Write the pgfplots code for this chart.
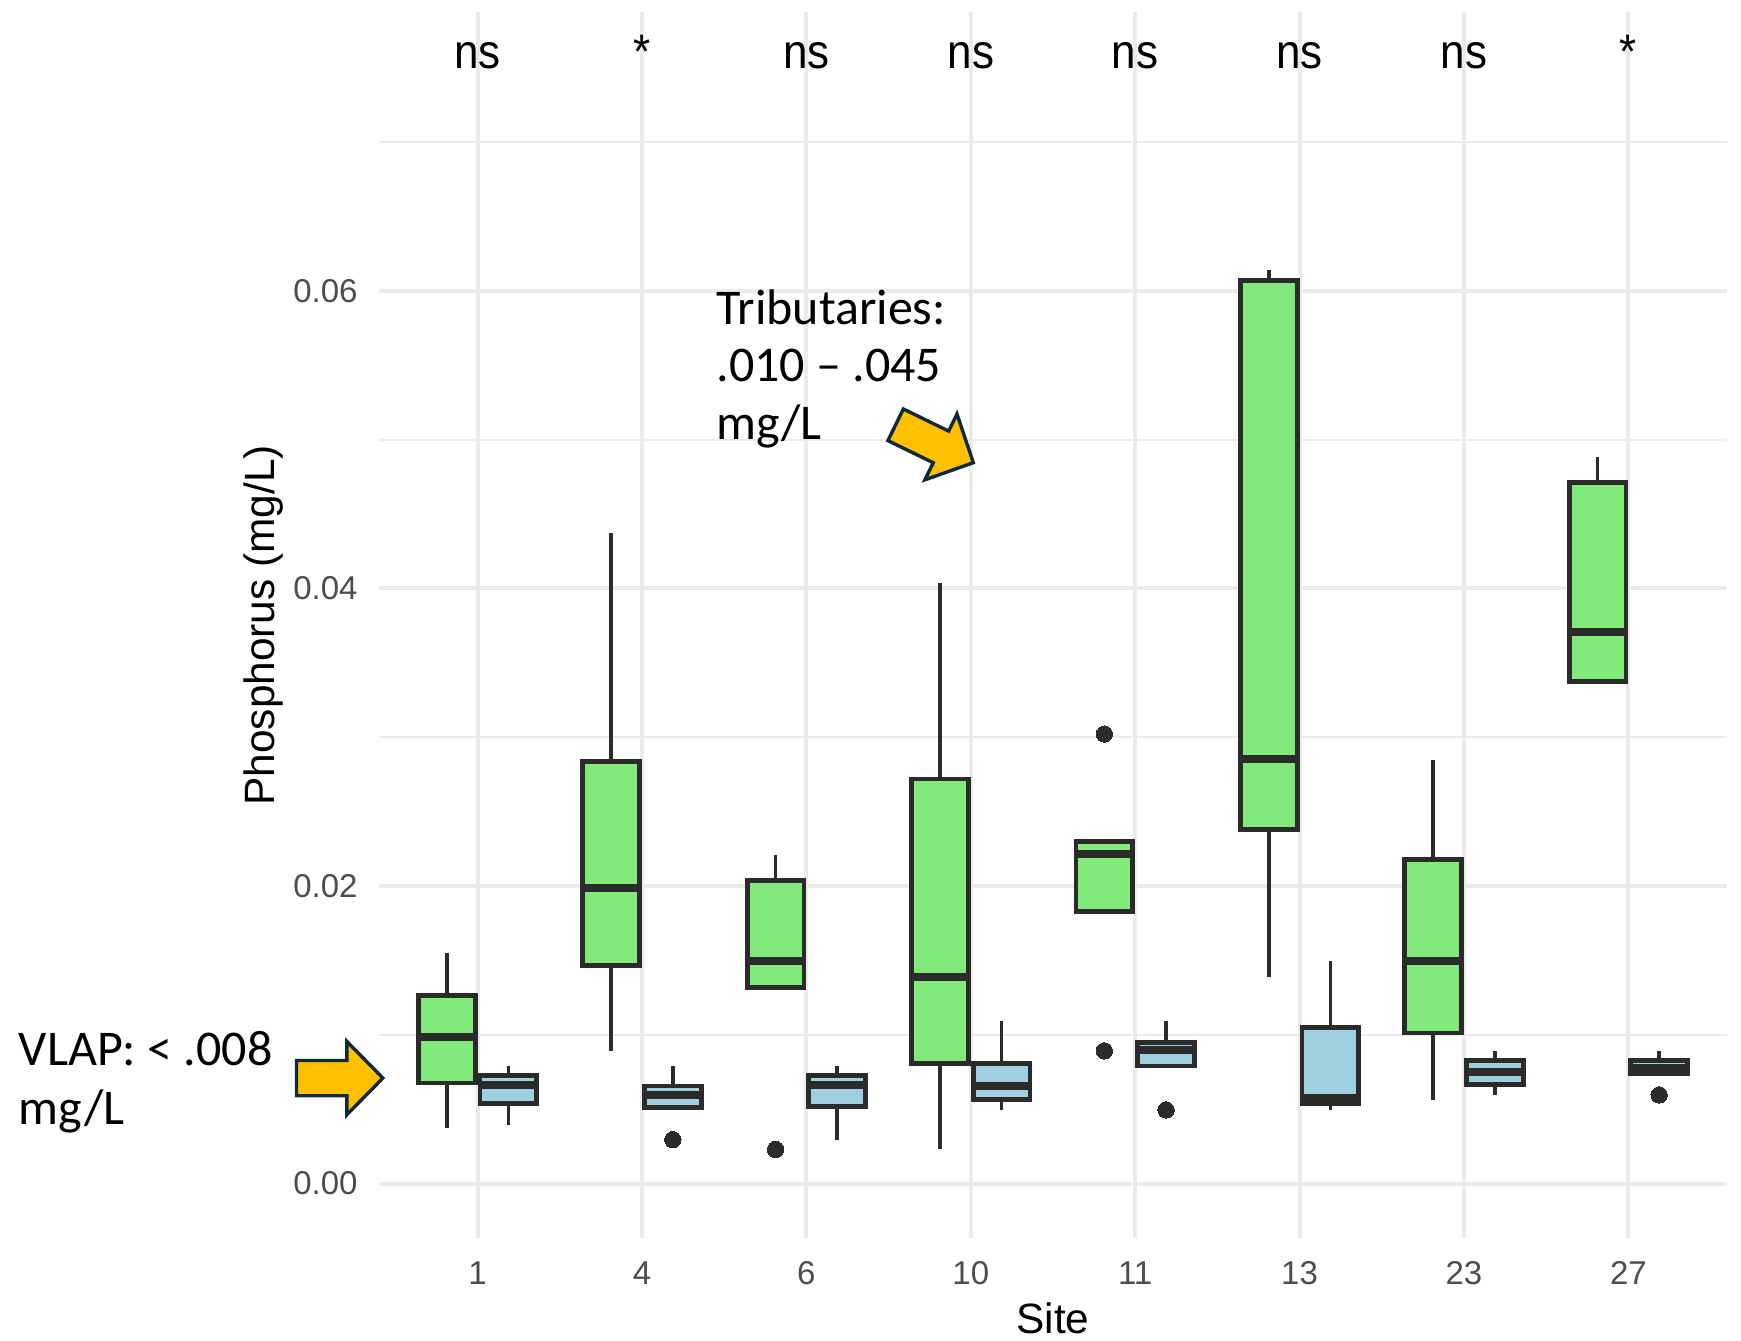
\documentclass[border=0pt]{standalone}
\usepackage{fontspec}
\setmainfont{Liberation Sans}
\newfontfamily\annfont{Carlito}
\usepackage{pgfplots}
\pgfplotsset{compat=1.18}
\definecolor{boxgreen}{HTML}{82EA7A}
\definecolor{boxblue}{HTML}{A0CFE0}
\definecolor{edgec}{HTML}{2B2B2B}
\definecolor{gridc}{HTML}{EBEBEB}
\definecolor{tickc}{HTML}{4D4D4D}
\definecolor{arrowfill}{HTML}{FFC000}
\definecolor{arrowedge}{HTML}{0E2A3A}
\pgfplotsset{
  whisk/.style={draw=edgec, line width=1.8pt, mark=none, forget plot},
  boxs/.style={draw=edgec, line width=2.4pt, line join=miter, mark=none, forget plot},
  med/.style={draw=edgec, line width=4pt, mark=none, forget plot},
  outl/.style={only marks, mark=*, mark size=4.1pt, mark options={fill=edgec, draw=edgec, line width=0pt}, forget plot},
}
% #1 left, #2 centre, #3 right, #4 colour, #5 lower whisker, #6 Q1, #7 median, #8 Q3, #9 upper whisker
\newcommand{\bx}[9]{%
  \addplot[whisk] coordinates {(#2,#6) (#2,#5)};
  \addplot[whisk] coordinates {(#2,#8) (#2,#9)};
  \addplot[boxs, fill=#4] coordinates {(#1,#6) (#3,#6) (#3,#8) (#1,#8)} --cycle;
  \addplot[med] coordinates {(#1,#7) (#3,#7)};
}
\tikzset{sig/.style={anchor=base, inner sep=0pt, yscale=1.1, font=\fontsize{22}{26}\selectfont}}
\begin{document}
\begin{tikzpicture}
\begin{axis}[
  scale only axis, width=674pt, height=613.2pt,
  xmin=-0.6, xmax=7.6, ymin=-0.00368, ymax=0.07874,
  xtick={0,1,2,3,4,5,6,7}, xticklabels={1,4,6,10,11,13,23,27},
  ytick={0,0.02,0.04,0.06}, minor ytick={0.01,0.03,0.05,0.07},
  scaled y ticks=false,
  /pgf/number format/assume math mode=true,
  yticklabel style={/pgf/number format/fixed, /pgf/number format/fixed zerofill, /pgf/number format/precision=2},
  grid=both,
  major grid style={gridc, line width=2pt},
  minor grid style={gridc, line width=1.1pt},
  axis line style={draw=none}, tick style={draw=none},
  major tick length=0pt, minor tick length=0pt,
  ticklabel style={font=\fontsize{16.5}{18}\selectfont, text=tickc},
  xticklabel style={anchor=base, yshift=-23.1pt},
  yticklabel style={anchor=east, inner sep=0pt, xshift=-10.5pt},
  xlabel={Site}, ylabel={Phosphorus (mg/L)},
  label style={font=\fontsize{21.2}{25}\selectfont},
  xlabel style={at={(axis description cs:0.5,-0.0775)}, anchor=base},
  ylabel style={at={(axis description cs:-0.08546,0.5)}, anchor=center},
  clip=false,
]
% site 1
\bx{-0.36}{-0.1875}{-0.015}{boxgreen}{0.00374}{0.00676}{0.00984}{0.01266}{0.01548}
\bx{0.015}{0.1875}{0.36}{boxblue}{0.00397}{0.00538}{0.00662}{0.00728}{0.00791}
% site 4
\bx{0.64}{0.8125}{0.985}{boxgreen}{0.00892}{0.01468}{0.01986}{0.02835}{0.04372}
\bx{1.015}{1.1875}{1.36}{boxblue}{0.00512}{0.00512}{0.00595}{0.00656}{0.00791}
\addplot[outl] coordinates {(1.1875,0.00296)};
% site 6
\bx{1.64}{1.8125}{1.985}{boxgreen}{0.01318}{0.01318}{0.01497}{0.02035}{0.0221}
\addplot[outl] coordinates {(1.8125,0.0023)};
\bx{2.015}{2.1875}{2.36}{boxblue}{0.00296}{0.00518}{0.00662}{0.00728}{0.00791}
% site 10
\bx{2.64}{2.8125}{2.985}{boxgreen}{0.0023}{0.00806}{0.0139}{0.0272}{0.04037}
\bx{3.015}{3.1875}{3.36}{boxblue}{0.00498}{0.00564}{0.00655}{0.00806}{0.01094}
% site 11
\bx{3.64}{3.8125}{3.985}{boxgreen}{0.01828}{0.01828}{0.02216}{0.0230}{0.0230}
\addplot[outl] coordinates {(3.8125,0.03022) (3.8125,0.00892)};
\bx{4.015}{4.1875}{4.36}{boxblue}{0.00791}{0.00791}{0.0090}{0.0095}{0.01094}
\addplot[outl] coordinates {(4.1875,0.00495)};
% site 13
\bx{4.64}{4.8125}{4.985}{boxgreen}{0.0139}{0.0238}{0.02855}{0.06071}{0.06143}
\bx{5.015}{5.1875}{5.36}{boxblue}{0.00498}{0.00538}{0.00578}{0.0105}{0.01494}
% site 23
\bx{5.64}{5.8125}{5.985}{boxgreen}{0.00561}{0.01013}{0.01497}{0.02179}{0.02849}
\bx{6.015}{6.1875}{6.36}{boxblue}{0.00599}{0.00668}{0.00748}{0.00826}{0.00892}
% site 27
\bx{6.64}{6.8125}{6.985}{boxgreen}{0.03373}{0.03373}{0.03707}{0.04712}{0.04881}
\bx{7.015}{7.1875}{7.36}{boxblue}{0.0074}{0.0074}{0.00777}{0.00826}{0.00892}
\addplot[outl] coordinates {(7.1875,0.00596)};
% significance labels
\node[sig] at (axis cs:0,0.07495) {ns};
\node[sig] at (axis cs:1,0.07495) {*};
\node[sig] at (axis cs:2,0.07495) {ns};
\node[sig] at (axis cs:3,0.07495) {ns};
\node[sig] at (axis cs:4,0.07495) {ns};
\node[sig] at (axis cs:5,0.07495) {ns};
\node[sig] at (axis cs:6,0.07495) {ns};
\node[sig] at (axis cs:7,0.07495) {*};
\coordinate (TL) at (rel axis cs:0,1);
\end{axis}
\begin{scope}[shift={(TL)}]
  \tikzset{ann/.style={anchor=base west, inner sep=0pt, font=\annfont\fontsize{25}{29}\selectfont},
    blk/.style={fill=arrowfill, draw=arrowedge, line width=1.7pt, line join=miter}}
  \node[ann] at (168.5pt,-156.5pt) {Tributaries:};
  \node[ann] at (168.5pt,-184.85pt) {.010 – .045};
  \node[ann] at (168.5pt,-214pt) {mg/L};
  \node[ann] at (-180.3pt,-526.65pt) {VLAP: < .008};
  \node[ann] at (-180.3pt,-556.15pt) {mg/L};
  \draw[blk, shift={(297.15pt,-225.35pt)}, rotate=-26]
    (0,0) -- (-18pt,18.3pt) -- (-18pt,8.8pt) -- (-43.2pt,8.8pt) -- (-43.2pt,-8.8pt)
    -- (-18pt,-8.8pt) -- (-18pt,-18.3pt) -- cycle;
  \draw[blk, shift={(1.95pt,-533.05pt)}]
    (0,0) -- (-18pt,18.3pt) -- (-18pt,8.8pt) -- (-43.2pt,8.8pt) -- (-43.2pt,-8.8pt)
    -- (-18pt,-8.8pt) -- (-18pt,-18.3pt) -- cycle;
\end{scope}
\pgfresetboundingbox
\path[use as bounding box] ([shift={(-189.5pt,-664pt)}]TL) rectangle ([shift={(681pt,6pt)}]TL);
\end{tikzpicture}
\end{document}
